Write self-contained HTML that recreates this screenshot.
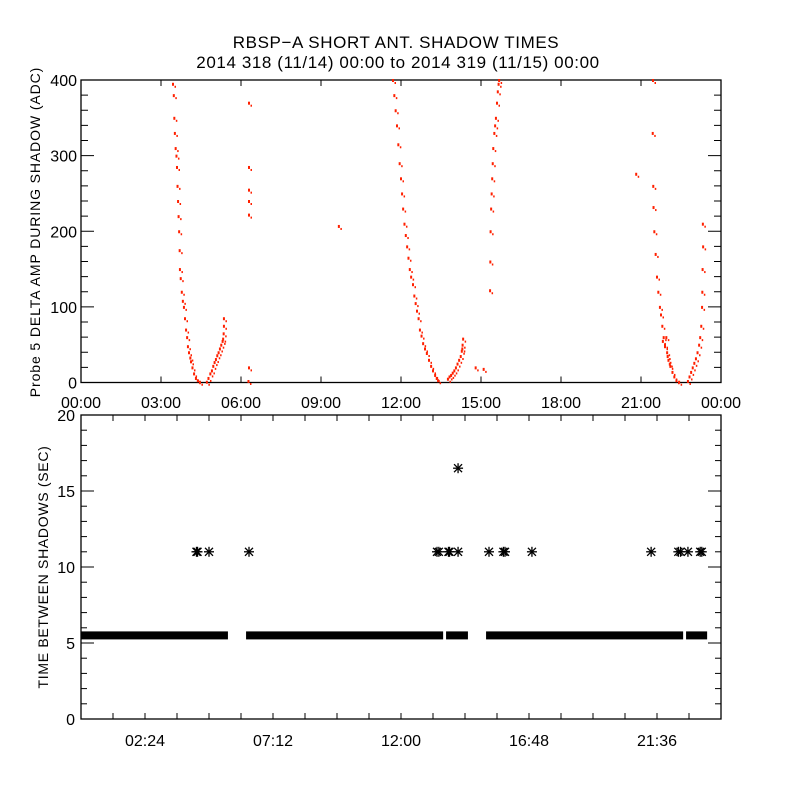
<!DOCTYPE html>
<html><head><meta charset="utf-8"><style>
body{margin:0;background:#fff}
svg text{font-family:"Liberation Sans",sans-serif;fill:#000}
</style></head><body>
<svg id="chart" width="800" height="800" viewBox="0 0 800 800" xmlns="http://www.w3.org/2000/svg">
<rect width="800" height="800" fill="#fff"/>
<text x="396" y="48" font-size="17" text-anchor="middle" letter-spacing="0.6">RBSP−A SHORT ANT. SHADOW TIMES</text>
<text x="398" y="68" font-size="17" text-anchor="middle" letter-spacing="0.6">2014 318 (11/14) 00:00 to 2014 319 (11/15) 00:00</text>
<text transform="translate(40,232) rotate(-90)" font-size="14" text-anchor="middle" letter-spacing="0.9">Probe 5 DELTA AMP DURING SHADOW (ADC)</text>
<text transform="translate(48,567) rotate(-90)" font-size="14" text-anchor="middle" letter-spacing="0.7">TIME BETWEEN SHADOWS (SEC)</text>
<g id="topPanel"></g>
<g id="botPanel"></g>
</svg>
<script>
// ---- top panel data: [hour, ADC value] ----
const ampHours = [3.45,3.48,3.5,3.52,3.55,3.58,3.6,3.62,3.64,3.66,3.68,3.7,3.71,3.74,3.78,3.82,3.86,3.9,3.94,3.98,4.01,4.05,4.1,4.125,4.18,4.24,4.31,4.38,4.46,
 4.72,4.78,4.85,4.91,4.96,5.01,5.06,5.11,5.16,5.21,5.26,5.31,5.33,5.35,5.36,5.36,
 6.3,6.3,6.3,6.3,6.3,6.3,6.28,9.67,
 11.7,11.75,11.8,11.85,11.9,11.95,12.0,12.04,12.08,12.13,12.18,12.23,12.28,12.33,12.38,12.45,12.5,12.55,12.6,12.66,12.71,12.77,12.83,12.9,12.97,13.05,13.13,13.2,13.28,13.34,13.39,
 13.76,13.82,13.88,13.94,14.0,14.06,14.12,14.18,14.24,14.28,14.31,14.33,14.3,
 14.8,15.1,15.34,15.35,15.36,15.38,15.4,15.42,15.44,15.46,15.5,15.53,15.56,15.6,15.63,15.66,15.68,
 20.82,
 21.45,21.44,21.46,21.47,21.5,21.55,21.6,21.65,21.71,21.75,21.8,21.85,21.9,21.98,22.03,22.1,22.18,22.25,22.33,22.43,21.82,21.9,21.95,22.0,22.08,
 22.76,22.82,22.88,22.94,23.0,23.06,23.12,23.18,23.22,23.26,23.29,23.31,23.33,23.32,23.3];
const ampValues = [395,380,350,330,310,300,285,260,240,220,200,175,150,138,120,108,100,85,70,60,48,40,33,28,20,12,6,3,1,
 1,6,12,16,22,27,31,36,40,45,50,55,58,65,75,85,
 370,285,255,240,222,20,2,207,
 400,380,360,340,315,290,270,250,230,210,195,180,165,150,140,130,115,105,95,85,70,62,52,45,39,30,22,16,10,6,3,
 5,8,10,13,16,20,25,30,35,42,50,58,45,
 20,18,122,160,200,230,250,270,290,310,330,340,350,370,385,395,400,
 276,
 400,330,260,232,200,170,140,120,100,90,75,60,50,40,30,22,14,8,3,1,55,48,60,35,25,
 2,8,14,20,26,32,40,50,60,75,100,150,180,210,120];
// ---- bottom panel data ----
const bandStart = [0, 6.19, 13.69, 15.19, 22.69];
const bandEnd = [5.51, 13.58, 14.51, 22.58, 23.48];
const bandValue = 5.5;
const starHours = [4.33,4.37,4.8,6.3,13.35,13.42,13.78,13.82,14.14,14.14,15.3,15.84,15.9,16.91,21.38,22.4,22.48,22.76,23.22,23.28];
const starValues = [11,11,11,11,11,11,11,11,11,16.5,11,11,11,11,11,11,11,11,11,11];
const topYTicks = [0,100,200,300,400];
const topXLabels = ["00:00","03:00","06:00","09:00","12:00","15:00","18:00","21:00","00:00"];
const botYTicks = [0,5,10,15,20];
const botXLabels = ["02:24","07:12","12:00","16:48","21:36"];

const NS="http://www.w3.org/2000/svg";
const L=81,R=721;
const xH=h=>L+(h/24)*(R-L);
const T1=80,B1=382.5; const yA=v=>B1-(v/400)*(B1-T1);
const T2=415,B2=719; const yS=v=>B2-(v/20)*(B2-T2);
function mk(p,tag,attrs){const e=document.createElementNS(NS,tag);for(const k in attrs)e.setAttribute(k,attrs[k]);p.appendChild(e);return e;}
const gTop=document.getElementById('topPanel'), gBot=document.getElementById('botPanel');

// top frame
let f=mk(gTop,'rect',{x:L,y:T1,width:R-L,height:B1-T1,fill:'none',stroke:'#000','stroke-width':1.3});


for(let v=0;v<=400;v+=20){const maj=v%100===0;const len=maj?13:7;const y=yA(v);
 mk(gTop,'line',{x1:L,x2:L+len,y1:y,y2:y,stroke:'#000'});mk(gTop,'line',{x1:R,x2:R-len,y1:y,y2:y,stroke:'#000'});}
topYTicks.forEach(v=>{const t=mk(gTop,'text',{x:L-4,y:yA(v)+6,'font-size':16,'text-anchor':'end'});t.textContent=v;
 
 });
topXLabels.forEach((s,i)=>{const x=xH(i*3);mk(gTop,'line',{x1:x,x2:x,y1:B1,y2:B1-6,stroke:'#000'});mk(gTop,'line',{x1:x,x2:x,y1:T1,y2:T1+6,stroke:'#000'});
 const t=mk(gTop,'text',{x:x,y:408,'font-size':16,'text-anchor':'middle'});t.textContent=s;
 
 });
ampHours.forEach((h,i)=>{const d=mk(gTop,'rect',{x:xH(h)-1,y:yA(ampValues[i])-1,width:2,height:3,fill:'#ff2000'});
 
 
 const d2=mk(gTop,'rect',{x:xH(h)+1.5,y:yA(ampValues[i])+2,width:1.5,height:2,fill:'#ff2000'});
 
 });

// bottom frame
f=mk(gBot,'rect',{x:L,y:T2,width:R-L,height:B2-T2,fill:'none',stroke:'#000','stroke-width':1.3});


for(let v=0;v<=20;v++){const maj=v%5===0;const len=maj?13:6;const y=yS(v);
 mk(gBot,'line',{x1:L,x2:L+len,y1:y,y2:y,stroke:'#000'});mk(gBot,'line',{x1:R,x2:R-len,y1:y,y2:y,stroke:'#000'});}
botYTicks.forEach(v=>{const t=mk(gBot,'text',{x:L-6,y:yS(v)+6,'font-size':16,'text-anchor':'end'});t.textContent=v;
 
 });
for(let k=0;k<=20;k++){const x=xH(k*1.2);mk(gBot,'line',{x1:x,x2:x,y1:B2,y2:B2-6,stroke:'#000'});mk(gBot,'line',{x1:x,x2:x,y1:T2,y2:T2+6,stroke:'#000'});}
botXLabels.forEach((s,i)=>{const t=mk(gBot,'text',{x:xH(2.4+i*4.8),y:746,'font-size':16,'text-anchor':'middle'});t.textContent=s;
 
 });
bandStart.forEach((s,i)=>{const r=mk(gBot,'rect',{x:xH(s),y:yS(bandValue)-4,width:xH(bandEnd[i])-xH(s),height:8,fill:'#000'});
 
 });
starHours.forEach((h,i)=>{const cx=xH(h),cy=yS(starValues[i]);const g=mk(gBot,'g',{stroke:'#000','stroke-width':1.3});
 
 
 mk(g,'line',{x1:cx-5,x2:cx+5,y1:cy,y2:cy});mk(g,'line',{x1:cx,x2:cx,y1:cy-5,y2:cy+5});
 mk(g,'line',{x1:cx-4,x2:cx+4,y1:cy-4,y2:cy+4});mk(g,'line',{x1:cx-4,x2:cx+4,y1:cy+4,y2:cy-4});});
</script>
</body></html>
